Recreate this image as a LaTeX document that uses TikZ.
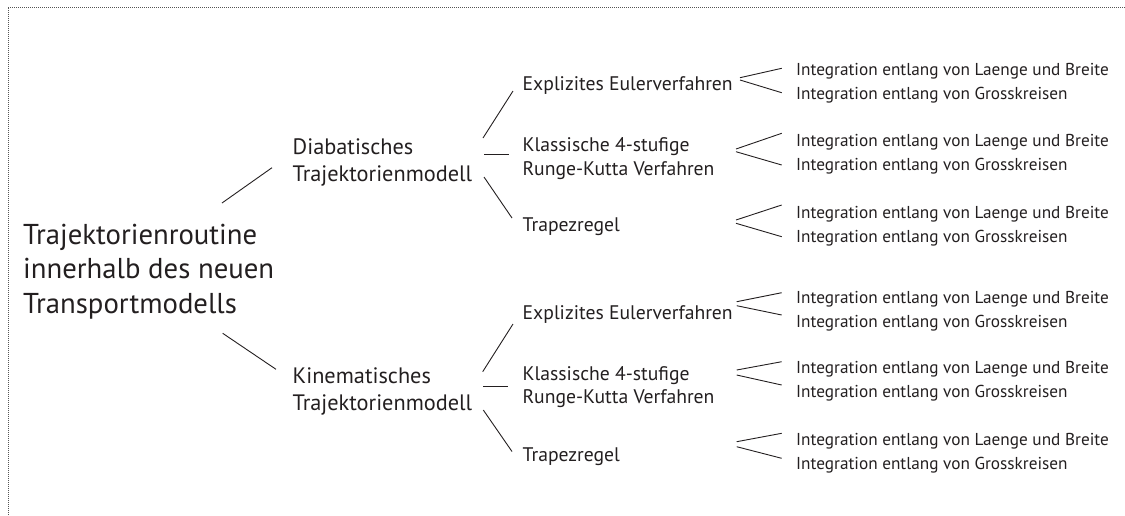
\documentclass[tikz,border=0pt]{standalone}
\usepackage{fontspec}
\setmainfont{PT Sans}
\definecolor{ink}{HTML}{231F20}
\definecolor{framegray}{HTML}{555555}
\newlength\tmpw
\newcommand\linkit[3]{%
  \coordinate (#1-s) at (#2);
  \coordinate (#1-t) at (#3);
  \draw[conn] (#1-s) -- (#1-t);}
\newcommand\fitsize[3]{%
  \settowidth\tmpw{\rmfamily\fontsize{10pt}{12pt}\selectfont #3}%
  \pgfmathsetmacro#1{10*#2/\tmpw}}
\begin{document}
\fitsize\rootfs{234}{Trajektorienroutine}%
\fitsize\modfs{179.5}{Trajektorienmodell}%
\fitsize\levfs{210}{Explizites Eulerverfahren}%
\fitsize\leaffs{312.6}{Integration entlang von Laenge und Breite}%
\begin{tikzpicture}[x=1pt,y=-1pt,
  lbl/.style={inner sep=0pt, anchor=base west, text=ink, align=left},
  conn/.style={draw=ink, line width=0.9pt},
  frame/.style={draw=framegray, line width=1pt, dash pattern=on 1pt off 1pt},
  rootf/.style={font=\fontsize{\rootfs pt}{34.5pt}\selectfont},
  modf/.style={font=\fontsize{\modfs pt}{27pt}\selectfont},
  levf/.style={font=\fontsize{\levfs pt}{23.3pt}\selectfont},
  leaff/.style={font=\fontsize{\leaffs pt}{24pt}\selectfont}]
\useasboundingbox (0,0) rectangle (1125,515);
% frame
\draw[frame] (8,515) -- (8,7) -- (1125,7);
% root (base anchor = baseline of last line)
\node[lbl,rootf] (root) at (23,313.3) {Trajektorienroutine\\innerhalb des neuen\\Transportmodells};
% models
\node[lbl,modf] (dia) at (292.5,181.7) {Diabatisches\\Trajektorienmodell};
\node[lbl,modf] (kin) at (292.5,410.5) {Kinematisches\\Trajektorienmodell};
% level 2
\node[lbl,levf] (de) at (522.5,90.7) {Explizites Eulerverfahren};
\node[lbl,levf] (dk) at (522.5,175) {Klassische 4-stufige\\Runge-Kutta Verfahren};
\node[lbl,levf] (dt) at (522.5,231.7) {Trapezregel};
\node[lbl,levf] (ke) at (522.5,319.2) {Explizites Eulerverfahren};
\node[lbl,levf] (kk) at (522.5,403.3) {Klassische 4-stufige\\Runge-Kutta Verfahren};
\node[lbl,levf] (kt) at (522.5,461) {Trapezregel};
% leaves
\node[lbl,leaff] (de1) at (796,75) {Integration entlang von Laenge und Breite};
\node[lbl,leaff] (de2) at (796,99.3) {Integration entlang von Grosskreisen};
\node[lbl,leaff] (dk1) at (796,146.7) {Integration entlang von Laenge und Breite};
\node[lbl,leaff] (dk2) at (796,170.7) {Integration entlang von Grosskreisen};
\node[lbl,leaff] (dt1) at (796,218.3) {Integration entlang von Laenge und Breite};
\node[lbl,leaff] (dt2) at (796,242.3) {Integration entlang von Grosskreisen};
\node[lbl,leaff] (ke1) at (796,303.3) {Integration entlang von Laenge und Breite};
\node[lbl,leaff] (ke2) at (796,327.3) {Integration entlang von Grosskreisen};
\node[lbl,leaff] (kk1) at (796,373.3) {Integration entlang von Laenge und Breite};
\node[lbl,leaff] (kk2) at (796,397.3) {Integration entlang von Grosskreisen};
\node[lbl,leaff] (kt1) at (796,445) {Integration entlang von Laenge und Breite};
\node[lbl,leaff] (kt2) at (796,469) {Integration entlang von Grosskreisen};
% connectors: root -> models
\linkit{rd}{222,203}{272,167.7}
\linkit{rk}{222.7,333.3}{276,369.3}
% models -> methods
\linkit{dde}{483,138}{513,91}
\linkit{ddk}{484,154}{509,154}
\linkit{ddt}{484,177}{512,218}
\linkit{kke}{482.7,371.7}{513,324}
\linkit{kkk}{483.3,386.7}{508.3,386.7}
\linkit{kkt}{483.3,410}{512,451.5}
% methods -> integration variants
\linkit{de1c}{740,77.7}{781.7,68.3}
\linkit{de2c}{740,80}{781.7,92.7}
\linkit{dk1c}{736,149}{781.7,133.3}
\linkit{dk2c}{736,151.7}{781.7,165}
\linkit{dt1c}{736,220}{781.7,205}
\linkit{dt2c}{736,223.3}{781.7,236.7}
\linkit{ke1c}{736.7,301.7}{781.7,292.7}
\linkit{ke2c}{736.7,305.7}{781.7,315}
\linkit{kk1c}{736.7,370}{781.7,361.7}
\linkit{kk2c}{736.7,375}{781.7,385}
\linkit{kt1c}{736.7,441.7}{781.7,433.3}
\linkit{kt2c}{736.7,446.7}{781.7,458.3}
\end{tikzpicture}
\end{document}
